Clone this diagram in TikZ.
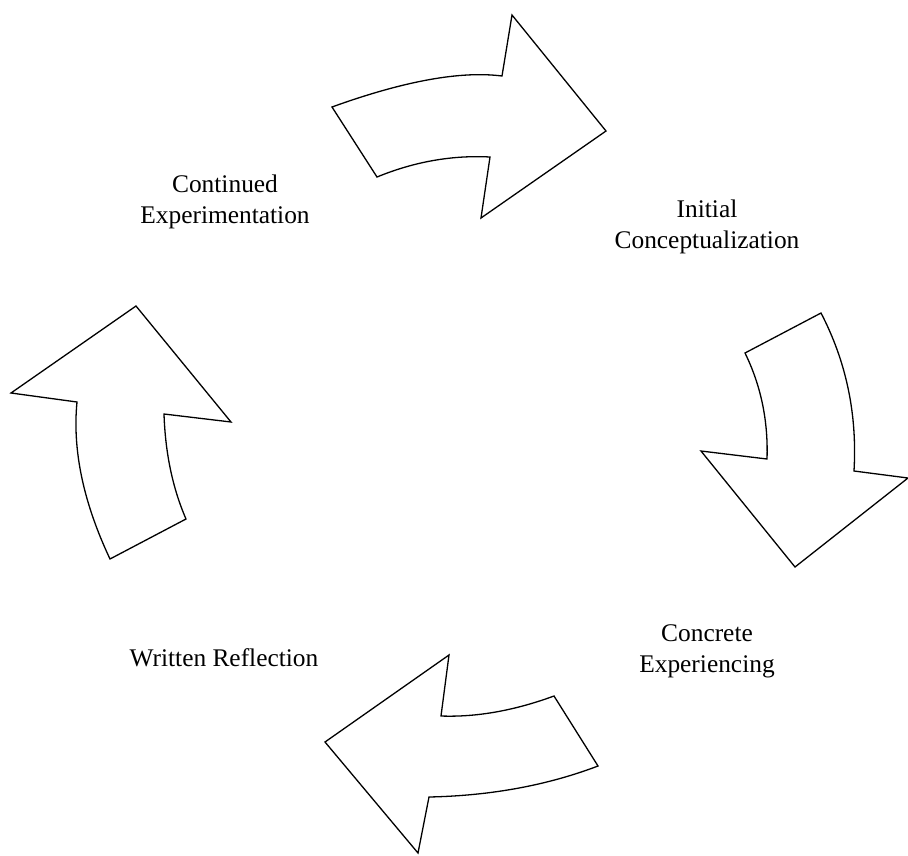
\documentclass[tikz,border=0pt]{standalone}
\usepackage{fontspec}
\setmainfont{Liberation Serif}
\begin{document}
\begin{tikzpicture}[x=1pt,y=-1pt,
  cyclearrow/.style={draw=black,fill=white,line width=1.3pt,line join=miter},
  lbl/.style={font=\fontsize{25.4}{31}\selectfont,align=center,inner sep=0pt,anchor=base}]
\useasboundingbox (0,0) rectangle (908,855);
% top arrow (pointing right)
\draw[cyclearrow] (332,107) .. controls (404,81) and (460.7,70.7) .. (502,76) -- (512,15) -- (606,131)
  -- (481,218) -- (490,157) .. controls (452,155) and (414.3,161.7) .. (377,177) -- cycle;
% right arrow (pointing down)
\draw[cyclearrow] (821,313) .. controls (846.3,361.7) and (857.3,414.3) .. (854,471) -- (908,478) -- (795,567)
  -- (701,451) -- (767,459) .. controls (768.3,421) and (761,385.7) .. (745,353) -- cycle;
% bottom arrow (pointing left)
\draw[cyclearrow] (598,766) .. controls (547.3,785.3) and (491,795.7) .. (429,797) -- (418,853) -- (325,742)
  -- (449,655) -- (441,716) .. controls (476.3,717.3) and (514,710.7) .. (554,696) -- cycle;
% left arrow (pointing up)
\draw[cyclearrow] (110,559) .. controls (83.3,502.3) and (72.3,450) .. (77,402) -- (11,393) -- (136,306)
  -- (231,422) -- (164,414) .. controls (165.3,453.3) and (172.7,488.3) .. (186,519) -- cycle;
% labels (base anchor = baseline of last line)
\node[lbl] (ce) at (225,223) {Continued\\Experimentation};
\node[lbl] (ic) at (707,248) {Initial\\Conceptualization};
\node[lbl] (cx) at (707,672) {Concrete\\Experiencing};
\node[lbl] (wr) at (224,666) {Written Reflection};
\end{tikzpicture}
\end{document}
